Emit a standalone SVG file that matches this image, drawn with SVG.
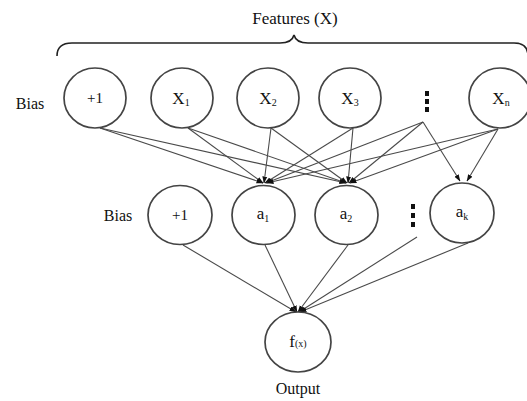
<svg xmlns="http://www.w3.org/2000/svg" width="527" height="401" viewBox="0 0 527 401" font-family="'Liberation Serif', 'Times New Roman', serif">
<defs>
<style>
.n{fill:#fff;stroke:#444;stroke-width:1.7}
.t{font-family:'Liberation Serif','Times New Roman',serif;fill:#111;text-anchor:middle}
.s{font-size:10px}
.c{fill:none;stroke:#4a4a4a;stroke-width:1.1}
.d{fill:#111}
</style>
<marker id="ah" markerUnits="userSpaceOnUse" markerWidth="7" markerHeight="7" viewBox="0 0 7 7" refX="6.5" refY="3.5" orient="auto">
<path d="M0,1 L7,3.5 L0,6 Z" fill="#111"/>
</marker>
</defs>
<g id="brace">
<path d="M57,56 Q57,43 72,43 L280,43 Q292,43 294,35 Q296,43 308,43 L514,43 Q528,43 528,56" fill="none" stroke="#222" stroke-width="1.6"/>
<text class="t" x="295" y="24" font-size="17">Features (X)</text>
</g>
<g id="connectors">
<line class="c" x1="100" y1="128" x2="263" y2="183" marker-end="url(#ah)"/>
<line class="c" x1="100" y1="128" x2="346" y2="183" marker-end="url(#ah)"/>
<line class="c" x1="188" y1="128" x2="263" y2="183" marker-end="url(#ah)"/>
<line class="c" x1="188" y1="128" x2="346" y2="183" marker-end="url(#ah)"/>
<line class="c" x1="271" y1="128" x2="264" y2="183" marker-end="url(#ah)"/>
<line class="c" x1="271" y1="128" x2="347" y2="183" marker-end="url(#ah)"/>
<line class="c" x1="353" y1="128" x2="265" y2="183" marker-end="url(#ah)"/>
<line class="c" x1="353" y1="128" x2="348" y2="183" marker-end="url(#ah)"/>
<line class="c" x1="423" y1="122" x2="266" y2="183" marker-end="url(#ah)"/>
<line class="c" x1="423" y1="122" x2="349" y2="183" marker-end="url(#ah)"/>
<line class="c" x1="423" y1="122" x2="460" y2="181" marker-end="url(#ah)"/>
<line class="c" x1="498" y1="129" x2="267" y2="183" marker-end="url(#ah)"/>
<line class="c" x1="498" y1="129" x2="350" y2="183" marker-end="url(#ah)"/>
<line class="c" x1="498" y1="129" x2="467" y2="181" marker-end="url(#ah)"/>
<line class="c" x1="183" y1="245" x2="296" y2="312" marker-end="url(#ah)"/>
<line class="c" x1="265" y1="245" x2="297" y2="312" marker-end="url(#ah)"/>
<line class="c" x1="348" y1="245" x2="298" y2="312" marker-end="url(#ah)"/>
<line class="c" x1="417" y1="237" x2="299" y2="312" marker-end="url(#ah)"/>
<line class="c" x1="468" y1="243" x2="300" y2="312" marker-end="url(#ah)"/>
</g>
<g id="bias-label-in">
<text class="t" x="30" y="109" font-size="16">Bias</text>
</g>
<g id="in-bias">
<ellipse class="n" cx="95" cy="98" rx="31" ry="30"/>
<text class="t" x="95" y="103" font-size="15">+1</text>
</g>
<g id="x1">
<ellipse class="n" cx="182" cy="98" rx="31" ry="30"/>
<text class="t" x="181" y="104" font-size="17">X<tspan class="s" dy="2">1</tspan></text>
</g>
<g id="x2">
<ellipse class="n" cx="268" cy="98" rx="31" ry="30"/>
<text class="t" x="268" y="104" font-size="17">X<tspan class="s" dy="2">2</tspan></text>
</g>
<g id="x3">
<ellipse class="n" cx="350" cy="98" rx="31" ry="30"/>
<text class="t" x="350" y="104" font-size="17">X<tspan class="s" dy="2">3</tspan></text>
</g>
<g id="in-dots">
<rect class="d" x="425" y="91" width="4" height="5"/>
<rect class="d" x="425" y="99" width="4" height="5"/>
<rect class="d" x="425" y="107" width="4" height="5"/>
</g>
<g id="xn">
<ellipse class="n" cx="500" cy="98" rx="31" ry="30"/>
<text class="t" x="501" y="104" font-size="17">X<tspan class="s" dy="2">n</tspan></text>
</g>
<g id="bias-label-hidden">
<text class="t" x="118" y="221" font-size="16">Bias</text>
</g>
<g id="h-bias">
<ellipse class="n" cx="180" cy="215" rx="32" ry="29.5"/>
<text class="t" x="180" y="220" font-size="15">+1</text>
</g>
<g id="a1">
<ellipse class="n" cx="263.5" cy="215" rx="31.5" ry="29.5"/>
<text class="t" x="263" y="219" font-size="17">a<tspan class="s" dy="3">1</tspan></text>
</g>
<g id="a2">
<ellipse class="n" cx="346.5" cy="215" rx="31.5" ry="29.5"/>
<text class="t" x="346" y="219" font-size="17">a<tspan class="s" dy="3">2</tspan></text>
</g>
<g id="h-dots">
<rect class="d" x="411" y="204" width="4" height="5"/>
<rect class="d" x="411" y="213" width="4" height="5"/>
<rect class="d" x="411" y="222" width="4" height="5"/>
</g>
<g id="ak">
<ellipse class="n" cx="462" cy="213" rx="32" ry="30"/>
<text class="t" x="462" y="217" font-size="17">a<tspan class="s" dy="3">k</tspan></text>
</g>
<g id="output">
<ellipse class="n" cx="298" cy="342" rx="33" ry="30"/>
<text class="t" x="298" y="347" font-size="17">f<tspan class="s" font-size="12">(x)</tspan></text>
<text class="t" x="298" y="394" font-size="16">Output</text>
</g>
</svg>
